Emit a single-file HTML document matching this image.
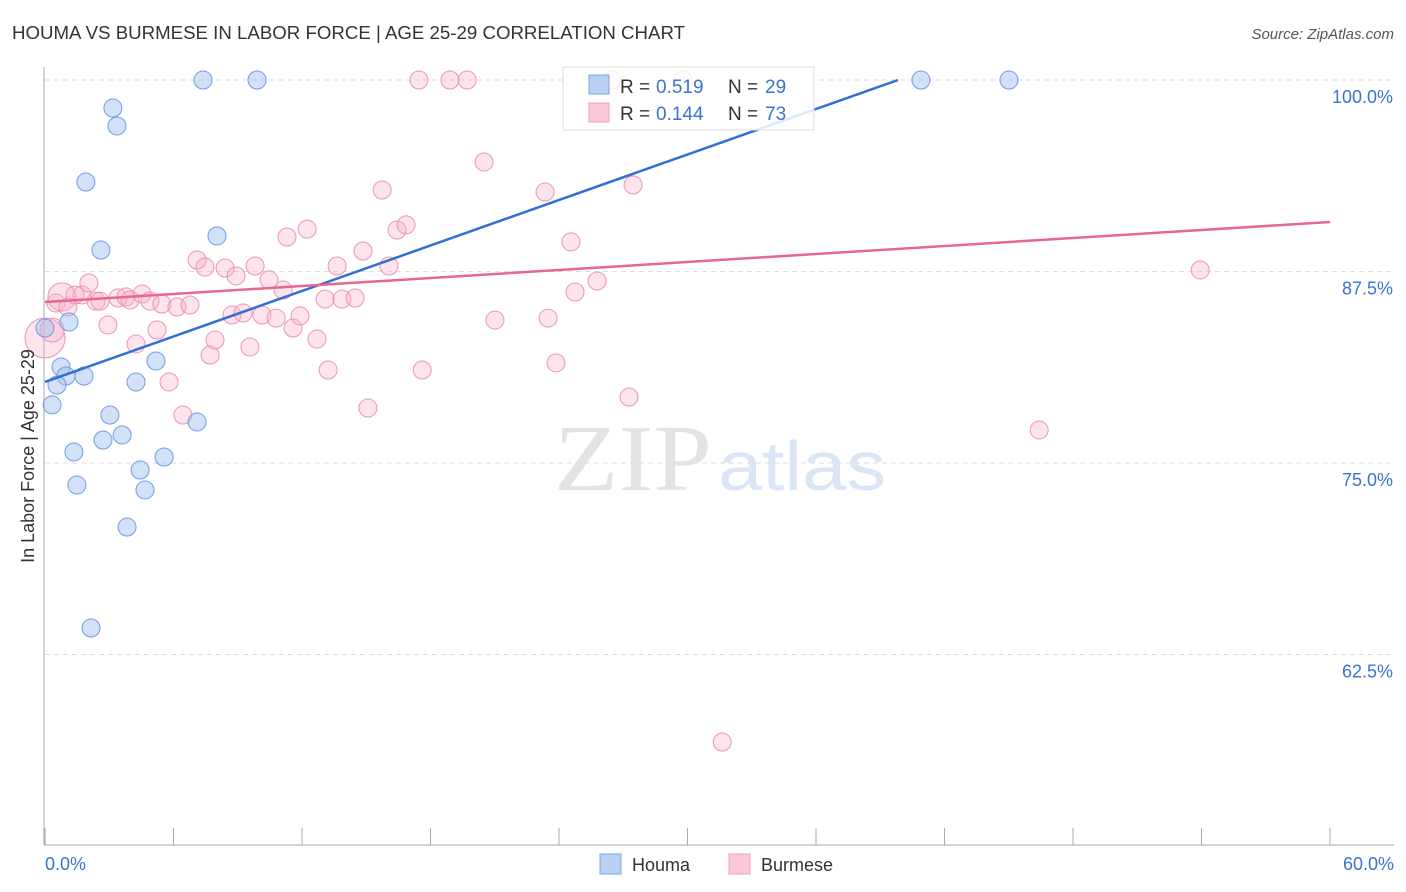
<!DOCTYPE html>
<html><head><meta charset="utf-8"><style>
body{margin:0;background:#fff;font-family:"Liberation Sans",sans-serif;}
</style></head><body>
<svg width="1406" height="892" style="display:block">
<text x="12" y="39" font-size="18" fill="#333" textLength="673" lengthAdjust="spacingAndGlyphs">HOUMA VS BURMESE IN LABOR FORCE | AGE 25-29 CORRELATION CHART</text>
<text x="1394" y="39" font-size="15" fill="#555" font-style="italic" text-anchor="end">Source: ZipAtlas.com</text>
<g id="grid"></g>
<text x="712" y="490" font-size="94" font-family="Liberation Serif,serif" fill="#e3e3e3" text-anchor="end" textLength="158" lengthAdjust="spacingAndGlyphs">ZIP</text>
<text x="718" y="490" font-size="70" fill="#dae5f5" textLength="168" lengthAdjust="spacingAndGlyphs">atlas</text>
<g id="pts"></g>
<g id="lines"></g>
<text transform="translate(34,456) rotate(-90)" font-size="18" fill="#333" text-anchor="middle">In Labor Force | Age 25-29</text>
<g>
<rect x="563" y="67" width="251" height="63" fill="rgba(255,255,255,0.85)" stroke="#ddd"/>
<rect x="589" y="75" width="20" height="19" fill="#b8d0f4" stroke="#7ea6e4"/>
<rect x="589" y="103" width="20" height="19" fill="#fac8d8" stroke="#f0a0bc"/>
<text x="620" y="93" font-size="19" fill="#333">R =</text>
<text x="656" y="93" font-size="19" fill="#3a74d0">0.519</text>
<text x="728" y="93" font-size="19" fill="#333">N =</text>
<text x="765" y="93" font-size="19" fill="#3a74d0">29</text>
<text x="620" y="120" font-size="19" fill="#333">R =</text>
<text x="656" y="120" font-size="19" fill="#3a74d0">0.144</text>
<text x="728" y="120" font-size="19" fill="#333">N =</text>
<text x="765" y="120" font-size="19" fill="#3a74d0">73</text>
</g>
<g>
<rect x="600" y="854" width="21" height="20" fill="#b8d0f4" stroke="#7ea6e4"/>
<text x="632" y="871" font-size="18" fill="#333">Houma</text>
<rect x="729" y="854" width="21" height="20" fill="#fac8d8" stroke="#f0a0bc"/>
<text x="761" y="871" font-size="18" fill="#333">Burmese</text>
</g>
</svg>
<script>
const xTicks=[0,6,12,18,24,30,36,42,48,54,60];
const yTicks=[100,87.5,75,62.5];
const houmaX=[7.38,9.90,40.90,45.01,3.17,3.36,1.91,2.61,8.03,0,1.12,0.75,0.98,1.82,0.56,0.33,4.25,5.18,3.03,3.60,2.71,1.35,7.10,5.56,4.44,1.49,4.67,3.83,2.15];
const houmaY=[100,100,100,100,98.17,97.00,93.34,88.90,89.82,83.81,84.20,81.27,80.68,80.68,80.09,78.79,80.29,81.66,78.13,76.83,76.50,75.72,77.68,75.39,74.54,73.56,73.24,70.82,64.23];
const burmX=[0,0.51,0.79,1.07,1.40,1.73,2.05,2.38,2.57,2.94,3.41,3.78,3.97,4.25,4.53,4.90,5.23,5.46,5.79,6.16,6.44,6.77,7.10,7.47,7.71,7.94,8.41,8.73,8.92,9.25,9.57,9.81,10.13,10.46,10.79,11.12,11.30,11.58,11.91,12.24,12.70,13.08,13.22,13.64,13.87,14.48,14.85,15.08,15.74,16.06,16.44,16.86,17.46,17.61,18.91,19.71,20.50,21.01,23.35,23.49,23.86,24.56,24.75,25.78,27.27,27.46,26.48,29.79,31.62,46.42,53.94,0.33];
const burmY=[83.16,85.44,85.84,85.18,85.97,85.97,86.75,85.57,85.57,84.01,85.77,85.84,85.64,82.77,86.03,85.57,83.68,85.38,80.29,85.18,78.13,85.31,88.25,87.79,82.05,83.03,87.73,84.66,87.21,84.79,82.57,87.86,84.66,86.95,84.46,86.29,89.75,83.81,84.60,90.27,83.09,85.70,81.07,87.86,85.70,85.77,88.84,78.59,92.82,87.86,90.21,90.54,100,81.07,100,100,94.65,84.33,92.69,84.46,81.53,89.43,86.16,86.88,79.31,93.15,100,100,56.79,77.15,87.60,83.68];
const burmR=[20,9,14,9,9,9,9,9,9,9,9,9,9,9,9,9,9,9,9,9,9,9,9,9,9,9,9,9,9,9,9,9,9,9,9,9,9,9,9,9,9,9,9,9,9,9,9,9,9,9,9,9,9,9,9,9,9,9,9,9,9,9,9,9,9,9,9,9,9,9,9,12];
const houmaTrend=[0,80.29,39.83,100];
const burmTrend=[0,85.51,60,90.73];
const NS="http://www.w3.org/2000/svg";
const X=v=>45+v/60*1285, Y=v=>80+(100-v)*15.32;
function mk(t,a,p){const e=document.createElementNS(NS,t);for(const k in a)e.setAttribute(k,a[k]);p.appendChild(e);return e;}
const g=document.getElementById('grid');
yTicks.forEach(t=>{
 const l=mk('line',{x1:45,x2:1394,y1:Y(t),y2:Y(t),stroke:'#ddd','stroke-dasharray':'5,4'},g);
 
 
 const tx=mk('text',{x:1393,y:Y(t)+23,'font-size':18,fill:'#3a74d0','text-anchor':'end'},g);
 tx.textContent=t.toFixed(1)+'%';
 
 
});
mk('line',{x1:44,x2:44,y1:67,y2:845,stroke:'#aaa'},g);
mk('line',{x1:44,x2:1394,y1:845,y2:845,stroke:'#aaa'},g);
xTicks.forEach((t,i)=>{
 const l=mk('line',{x1:X(t),x2:X(t),y1:828,y2:845,stroke:'#aaa'},g);
 
 
});
[[0,'start',45],[60,'end',1394]].forEach(([v,a,x])=>{
 const tx=mk('text',{x:x,y:870,'font-size':18,fill:'#3a74d0','text-anchor':a},g);
 tx.textContent=v.toFixed(1)+'%';
 
 
});
const p=document.getElementById('pts');
burmX.forEach((v,i)=>{
 const c=mk('circle',{cx:X(v),cy:Y(burmY[i]),r:burmR[i],fill:'rgba(246,175,200,0.35)',stroke:'#eb95b3','stroke-width':1},p);
 
 
});
houmaX.forEach((v,i)=>{
 const c=mk('circle',{cx:X(v),cy:Y(houmaY[i]),r:9,fill:'rgba(165,195,240,0.5)',stroke:'#6e9de2','stroke-width':1},p);
 
 
});
const L=document.getElementById('lines');
const hl=mk('line',{x1:X(houmaTrend[0]),y1:Y(houmaTrend[1]),x2:X(houmaTrend[2]),y2:Y(houmaTrend[3]),stroke:'#2f6fd6','stroke-width':2.5},L);


const bl=mk('line',{x1:X(burmTrend[0]),y1:Y(burmTrend[1]),x2:X(burmTrend[2]),y2:Y(burmTrend[3]),stroke:'#e8668f','stroke-width':2.5},L);


</script>
</body></html>
